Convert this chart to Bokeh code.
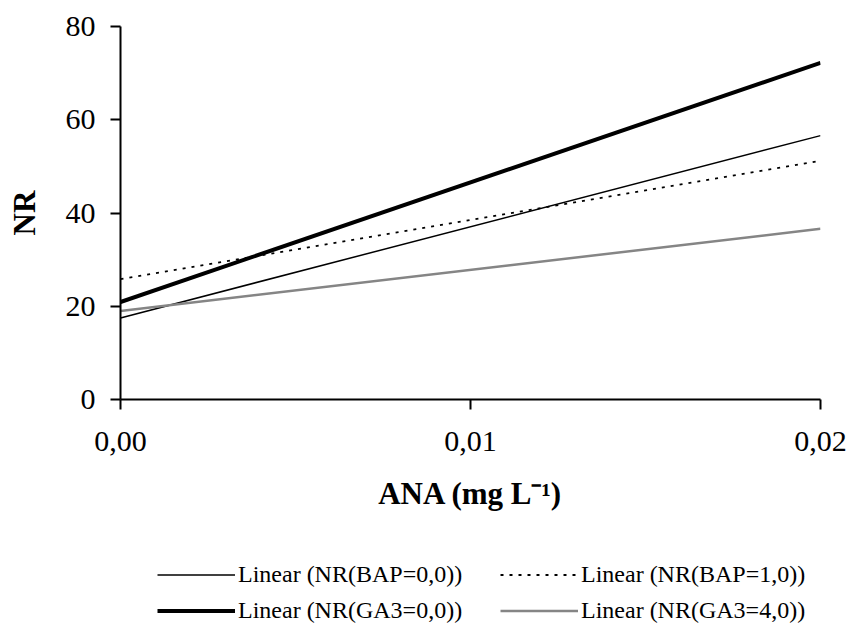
from bokeh.plotting import figure
from bokeh.models import Legend, LegendItem, Range1d, FixedTicker
from bokeh.layouts import column
from bokeh.embed import file_html
from bokeh.resources import INLINE

# Data: trend line end points (x = ANA, y = NR)
ana = [0.0, 0.02]
nr_bap0 = [17.5, 56.6]
nr_bap1 = [25.8, 51.2]
nr_ga0 = [20.9, 72.2]
nr_ga4 = [19.0, 36.6]
series_names = ["Linear (NR(BAP=0,0))", "Linear (NR(BAP=1,0))",
                "Linear (NR(GA3=0,0))", "Linear (NR(GA3=4,0))"]
x_ticks = [0.0, 0.01, 0.02]
x_tick_labels = ["0,00", "0,01", "0,02"]
y_ticks = [0, 20, 40, 60, 80]

FONT = "Liberation Serif"
styles = [dict(line_color="black", line_width=1.5),
          dict(line_color="black", line_width=1.8, line_dash="3 6"),
          dict(line_color="black", line_width=4),
          dict(line_color="#858585", line_width=2.5)]
series = [nr_bap0, nr_bap1, nr_ga0, nr_ga4]

p = figure(width=849, height=540, output_backend="svg", toolbar_location=None,
           x_range=Range1d(0, 0.02), y_range=Range1d(0, 80),
           min_border_left=120, min_border_right=29, min_border_top=26,
           min_border_bottom=141)
p.outline_line_color = None
p.xgrid.visible = False
p.ygrid.visible = False

for ys, st in zip(series, styles):
    p.line(ana, ys, **st)

# axes
p.xaxis.ticker = FixedTicker(ticks=x_ticks)
p.xaxis.major_label_overrides = {t: l for t, l in zip(x_ticks, x_tick_labels)}
p.yaxis.ticker = FixedTicker(ticks=y_ticks)
for ax in (p.xaxis, p.yaxis):
    ax.axis_line_color = "black"
    ax.axis_line_width = 2
    ax.major_tick_line_color = "black"
    ax.major_tick_line_width = 2
    ax.major_tick_out = 10
    ax.major_tick_in = 0
    ax.minor_tick_line_color = None
    ax.major_label_text_font = FONT
    ax.major_label_text_font_size = "30px"
    ax.major_label_text_color = "black"
    ax.axis_label_text_font = FONT
    ax.axis_label_text_font_size = "31px"
    ax.axis_label_text_font_style = "bold"
    ax.axis_label_text_color = "black"

p.xaxis.major_label_standoff = 22
p.yaxis.major_label_standoff = 15
p.xaxis.axis_label = "ANA (mg L\u207b\u00b9)"
p.xaxis.axis_label_standoff = 22
p.yaxis.axis_label = "NR"
p.yaxis.axis_label_standoff = 21

# legend panel (separate figure so the legend is not clipped)
lgf = figure(width=849, height=83, output_backend="svg", toolbar_location=None,
             x_range=Range1d(1, 2), y_range=Range1d(1, 2),
             min_border_left=0, min_border_right=0, min_border_top=0,
             min_border_bottom=0, x_axis_location=None, y_axis_location=None)
lgf.outline_line_color = None
lgf.xgrid.visible = False
lgf.ygrid.visible = False
lrs = [lgf.line(ana, ys, **st) for ys, st in zip(series, styles)]
items = [LegendItem(label=series_names[i], renderers=[r]) for i, r in enumerate(lrs)]

for pair, yloc in ((items[0:2], 35), (items[2:4], -1)):
    lg = Legend(items=pair, orientation="horizontal", location=(37, yloc))
    lg.label_text_font = FONT
    lg.label_text_font_size = "24px"
    lg.label_text_color = "black"
    lg.glyph_width = 78
    lg.glyph_height = 25
    lg.label_height = 25
    lg.label_width = 240
    lg.label_standoff = 3
    lg.spacing = 22
    lg.padding = 0
    lg.margin = 0
    lg.border_line_color = None
    lg.background_fill_alpha = 0
    lgf.add_layout(lg, "center")

layout = column(p, lgf, spacing=0)
open("out.html", "w").write(file_html(layout, INLINE))
